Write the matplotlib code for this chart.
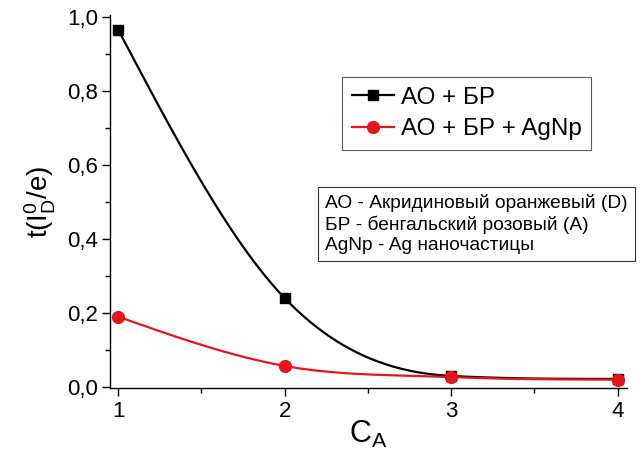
import numpy as np
import matplotlib
matplotlib.use("Agg")
import matplotlib.pyplot as plt
from matplotlib.ticker import FuncFormatter, MultipleLocator

plt.rcParams['font.family'] = ['Liberation Sans', 'DejaVu Sans']
plt.rcParams['mathtext.fontset'] = 'custom'
plt.rcParams['mathtext.rm'] = 'Liberation Sans'
plt.rcParams['mathtext.it'] = 'Liberation Sans'

c_a = [1, 2, 3, 4]
ao_br = [0.965, 0.240, 0.030, 0.022]
ao_br_agnp = [0.190, 0.057, 0.027, 0.020]
labels = ['АО + БР', 'АО + БР + AgNp']
note_lines = ['АО - Акридиновый оранжевый (D)',
              'БР - бенгальский розовый (A)',
              'AgNp - Ag наночастицы']


def smooth(x, y, xs):
    # Catmull-Rom spline through the points, slopes limited to avoid overshoot
    x = np.asarray(x, float)
    y = np.asarray(y, float)
    h = np.diff(x)
    d = np.diff(y) / h
    m = np.empty_like(y)
    m[1:-1] = (y[2:] - y[:-2]) / (x[2:] - x[:-2])
    for k in range(len(d)):
        lim = 3 * abs(d[k])
        m[k + 1] = np.clip(m[k + 1], -lim, lim)
        m[k] = np.clip(m[k], -lim, lim)
    # quadratic end conditions
    m[0] = (3 * d[0] - m[1]) / 2
    m[-1] = (3 * d[-1] - m[-2]) / 2
    if np.sign(m[-1]) != np.sign(d[-1]):
        m[-1] = 0.0
    idx = np.clip(np.searchsorted(x, xs) - 1, 0, len(x) - 2)
    t = (xs - x[idx]) / h[idx]
    h00 = 2 * t**3 - 3 * t**2 + 1
    h10 = t**3 - 2 * t**2 + t
    h01 = -2 * t**3 + 3 * t**2
    h11 = t**3 - t**2
    return (h00 * y[idx] + h10 * h[idx] * m[idx]
            + h01 * y[idx + 1] + h11 * h[idx] * m[idx + 1])


fig = plt.figure(figsize=(6.41, 4.54), dpi=100)
ax = fig.add_axes([0.172, 0.145, 0.806, 0.822])

xs = np.linspace(c_a[0], c_a[-1], 300)
for ys, col, mk, ms, lab in [(ao_br, 'black', 's', 7, labels[0]),
                             (ao_br_agnp, '#e8141c', 'o', 8.5, labels[1])]:
    ax.plot(xs, smooth(c_a, ys, xs), color=col, lw=1.6)
    ax.plot(c_a, ys, linestyle='none', marker=mk, ms=ms, color=col)
    ax.plot([], [], color=col, lw=1.6, marker=mk, ms=ms, label=lab)

ax.set_xlim(0.952, 4.055)
ax.set_ylim(-0.003, 1.005)
for s in ['top', 'right']:
    ax.spines[s].set_visible(False)
ax.spines['left'].set_linewidth(1.0)
ax.spines['bottom'].set_linewidth(1.0)

ax.xaxis.set_major_locator(MultipleLocator(1))
ax.xaxis.set_minor_locator(MultipleLocator(0.5))
ax.yaxis.set_major_locator(MultipleLocator(0.2))
ax.yaxis.set_minor_locator(MultipleLocator(0.1))
ax.yaxis.set_major_formatter(FuncFormatter(lambda v, p: f'{v:.1f}'.replace('.', ',')))
ax.tick_params(which='major', direction='out', length=6, width=1, labelsize=16, pad=3)
ax.tick_params(which='minor', direction='out', length=3.5, width=1)

ax.set_xlabel(r'C$_\mathregular{A}$', fontsize=22, labelpad=-2)
ax.set_ylabel(r't(I$_\mathregular{D}^\mathregular{0}$/e)', fontsize=20, labelpad=6)

leg = ax.legend(loc='upper left', bbox_to_anchor=(0.449, 0.834), fontsize=17.5,
                frameon=True, fancybox=False, handlelength=1.75, handletextpad=0.25,
                borderpad=0.4, labelspacing=0.4, borderaxespad=0)
leg.get_frame().set_edgecolor('#333333')
leg.get_frame().set_linewidth(0.8)

ax.text(0.416, 0.52, '\n'.join(note_lines), transform=ax.transAxes,
        fontsize=13.8, va='top', ha='left', linespacing=1.25,
        bbox=dict(boxstyle='square,pad=0.35', fc='white', ec='#333333', lw=0.8))

fig.savefig('out.png', dpi=100)
